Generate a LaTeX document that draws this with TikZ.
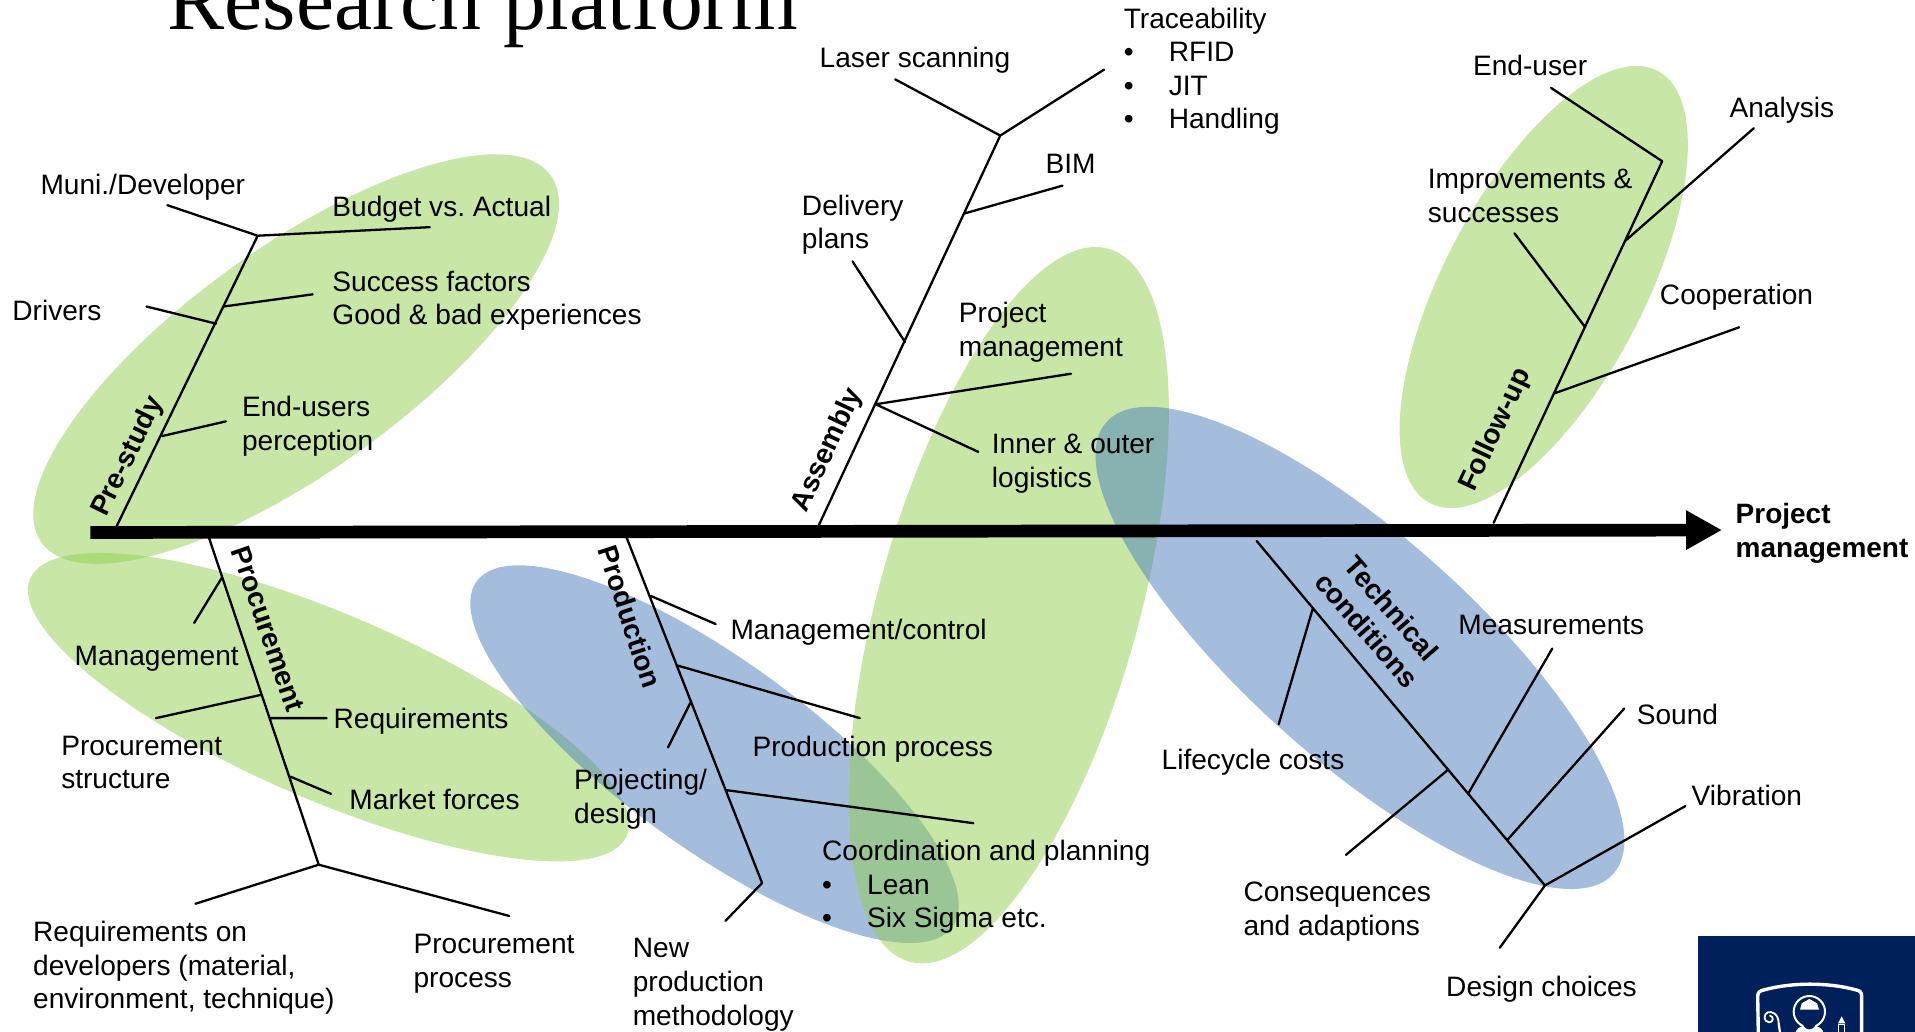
\documentclass[tikz,border=0pt]{standalone}
\usepackage{fontspec}
\setmainfont{Liberation Sans}
\newfontfamily\titlefont{Liberation Serif}
\usetikzlibrary{arrows.meta}
\definecolor{leaf}{HTML}{92D050}
\definecolor{sky}{HTML}{4A7CBC}
\definecolor{navy}{HTML}{00205B}
\newcommand{\BL}[1]{\makebox[45pt][l]{•}#1}
\frenchspacing
\tikzset{
  blob/.style={fill=#1,fill opacity=0.5,draw=none},
  lbl/.style={anchor=north west,inner sep=0pt,align=left,yshift=23.52pt,
    font=\fontsize{28.1}{33.6}\selectfont,execute at begin node=\strut},
  cat/.style={anchor=center,inner sep=0pt,align=center,
    font=\bfseries\fontsize{28}{33}\selectfont},
  bone/.style={draw=black,line width=2.3pt,line cap=round,line join=round},
  axis/.style={draw=black,line width=12.7pt,-{Triangle[length=36pt,width=37pt]}},
  crest/.style={draw=white,line cap=round,line join=round},
}
\begin{document}
\begin{tikzpicture}[x=1.2213pt,y=1.2213pt,yscale=-1]
\clip (0,0) rectangle (1568,845);
\fill[white] (0,0) rectangle (1568,845);
% blobs
\path[blob=leaf,shift={(242.5,294)},rotate=-35.8] (0,0) ellipse [x radius=257,y radius=91.5];
\path[blob=leaf,shift={(269,579)},rotate=23.3] (0,0) ellipse [x radius=266,y radius=76];
\path[blob=sky,shift={(585,617.5)},rotate=36] (0,0) ellipse [x radius=240.7,y radius=77];
\path[blob=leaf,shift={(826,495.5)},rotate=-74.4] (0,0) ellipse [x radius=303,y radius=106.6];
\path[blob=sky,shift={(1113.5,530.5)},rotate=41.7] (0,0) ellipse [x radius=278,y radius=92.4];
\path[blob=leaf,shift={(1264,235)},rotate=-62.2] (0,0) ellipse [x radius=200,y radius=81.7];
% title
\node[anchor=base west,inner sep=0pt,font=\titlefont\fontsize{85.7}{90}\selectfont] (title) at (137,24) {Research platform};
% axis
\coordinate (a0) at (74,436);
\coordinate (a1) at (1410,434);
\draw[axis] (a0) -- (a1);
% pre-study
\coordinate (p0) at (93,436);\coordinate (p1) at (211,193);
\coordinate (p2) at (137,168);\coordinate (p3) at (352,186);
\coordinate (p4) at (120,251);\coordinate (p5) at (177,265);
\coordinate (p6) at (183,251);\coordinate (p7) at (256,241);
\coordinate (p8) at (133,357);\coordinate (p9) at (185,345);
\draw[bone] (p0)--(p1) (p2)--(p1)--(p3) (p4)--(p5) (p6)--(p7) (p8)--(p9);
% procurement
\coordinate (q0) at (171,440);\coordinate (q1) at (261,708);
\coordinate (q2) at (181.5,473.3);\coordinate (q3) at (159,510);
\coordinate (q4) at (213.5,569);\coordinate (q5) at (127.7,588);
\coordinate (q6) at (221.6,588);\coordinate (q7) at (267.5,588);
\coordinate (q8) at (238,636);\coordinate (q9) at (271,650);
\coordinate (q10) at (160,740);\coordinate (q11) at (417,750);
\draw[bone] (q0)--(q1) (q2)--(q3) (q4)--(q5) (q6)--(q7) (q8)--(q9) (q10)--(q1)--(q11);
% production
\coordinate (r0) at (513,440);\coordinate (r1) at (624,723);
\coordinate (r2) at (533,488);\coordinate (r3) at (586,511);
\coordinate (r4) at (555,545);\coordinate (r5) at (704,588);
\coordinate (r6) at (566,574);\coordinate (r7) at (547,612);
\coordinate (r8) at (595,647);\coordinate (r9) at (797,674);
\coordinate (r10) at (594,754);
\draw[bone] (r0)--(r1)--(r10) (r2)--(r3) (r4)--(r5) (r6)--(r7) (r8)--(r9);
% assembly
\coordinate (s0) at (670,431);\coordinate (s1) at (819,111);
\coordinate (s2) at (733,65);\coordinate (s3) at (904,57);
\coordinate (s4) at (789,175);\coordinate (s5) at (870,152);
\coordinate (s6) at (741,280);\coordinate (s7) at (698,214);
\coordinate (s8) at (717,331);\coordinate (s9) at (877,306);
\coordinate (s10) at (801,370);
\draw[bone] (s0)--(s1) (s2)--(s1)--(s3) (s4)--(s5) (s6)--(s7) (s9)--(s8)--(s10);
% follow-up
\coordinate (u0) at (1223,428);\coordinate (u1) at (1361,132);
\coordinate (u2) at (1270,72);\coordinate (u3) at (1331,197);
\coordinate (u4) at (1436,105);\coordinate (u5) at (1298,268);
\coordinate (u6) at (1240,191);\coordinate (u7) at (1273,322);
\coordinate (u8) at (1424,268);
\draw[bone] (u0)--(u1)--(u2) (u3)--(u4) (u5)--(u6) (u7)--(u8);
% technical
\coordinate (t0) at (1029,443);\coordinate (t1) at (1265,725);
\coordinate (t2) at (1075,498);\coordinate (t3) at (1047,593);
\coordinate (t4) at (1186,630);\coordinate (t5) at (1102,700);
\coordinate (t6) at (1202,650);\coordinate (t7) at (1271,531);
\coordinate (t8) at (1234,688);\coordinate (t9) at (1330,580);
\coordinate (t10) at (1380,660);\coordinate (t11) at (1228,776);
\draw[bone] (t0)--(t1)--(t10) (t1)--(t11) (t2)--(t3) (t4)--(t5) (t6)--(t7) (t8)--(t9);
% labels
\node[lbl] (n1) at (33,159) {Muni./Developer};
\node[lbl] (n2) at (272,177) {Budget vs. Actual};
\node[lbl] (n3) at (10,262) {Drivers};
\node[lbl] (n4) at (272,241) {Success factors\\Good \& bad experiences};
\node[lbl] (n5) at (198,343.5) {End-users\\perception};
\node[lbl] (n6) at (61,545) {Management};
\node[lbl] (n7) at (273,596) {Requirements};
\node[lbl] (n8) at (50,621.5) {Procurement\\structure};
\node[lbl] (n9) at (286,663) {Market forces};
\node[lbl] (n10) at (27,773.5) {Requirements on\\developers (material,\\environment, technique)};
\node[lbl] (n11) at (338.5,784) {Procurement\\process};
\node[lbl] (n12) at (598,523.5) {Management/control};
\node[lbl] (n13) at (616,619) {Production process};
\node[lbl] (n14) at (470,649) {Projecting/\\design};
\node[lbl] (n15) at (673,707) {Coordination and planning\\\BL{Lean}\\\BL{Six Sigma etc.}};
\node[lbl] (n16) at (518,787.5) {New\\production\\methodology};
\node[lbl] (n17) at (671,55) {Laser scanning};
\node[lbl] (n18) at (920,25.5) {Traceability\\\BL{RFID}\\\BL{JIT}\\\BL{Handling}};
\node[lbl] (n19) at (856,141.5) {BIM};
\node[lbl] (n20) at (656.5,178.5) {Delivery\\plans};
\node[lbl] (n21) at (785,266.5) {Project\\management};
\node[lbl] (n22) at (812,374.5) {Inner \& outer\\logistics};
\node[lbl] (n23) at (1206,62) {End-user};
\node[lbl] (n24) at (1416,96) {Analysis};
\node[lbl] (n25) at (1169,157.5) {Improvements \&\\successes};
\node[lbl] (n26) at (1359,249) {Cooperation};
\node[lbl] (n27) at (1194,519) {Measurements};
\node[lbl] (n28) at (1340,593) {Sound};
\node[lbl] (n29) at (1385,659) {Vibration};
\node[lbl] (n30) at (951,630) {Lifecycle costs};
\node[lbl] (n31) at (1018,741.5) {Consequences\\and adaptions};
\node[lbl] (n32) at (1184,816) {Design choices};
\node[lbl,font=\bfseries\fontsize{28}{33.6}\selectfont] (n33) at (1421,431.5) {Project\\management};
% categories
\node[cat,rotate=64] at (105,374) (c1) {Pre-study};
\node[cat,rotate=-71] at (219.5,515) (c2) {Procurement};
\node[cat,rotate=-72] at (516,505) (c3) {Production};
\node[cat,rotate=65] at (678,368.5) (c4) {Assembly};
\node[cat,rotate=65] at (1225,352) (c5) {Follow-up};
\node[cat,rotate=-49] at (1129.5,507) (c6) {Technical\\conditions};
% logo
\fill[navy] (1390,766) rectangle (1568,845);
\begin{scope}[shift={(1745pt,975pt)},x=0.3333pt,y=0.3333pt]
\draw[crest,line width=3.4pt] (40,180) -- (38,65) .. controls (38,50) and (45,47) .. (60,44) .. controls (140,22) and (250,22) .. (330,44) .. controls (345,47) and (350,50) .. (350,65) -- (350,180);
\draw[crest,line width=2pt] (193,110) circle [radius=47];
\fill[white] (150,180) .. controls (152,160) and (165,155) .. (178,152) -- (208,152) .. controls (222,155) and (235,160) .. (237,180) -- cycle;
\fill[white] (165,104) -- (170,85) -- (193,72) -- (216,85) -- (222,104) -- cycle;
\fill[navy] (193,135) ellipse [x radius=22,y radius=28];
\draw[crest,line width=1.8pt] (101,145) .. controls (100,115) and (80,108) .. (68,112) .. controls (55,118) and (55,140) .. (72,142) .. controls (85,142) and (88,125) .. (75,122);
\draw[crest,line width=2.2pt] (101,145) -- (106,180);
\fill[white] (290,124) -- (279,145) -- (301,145) -- cycle;
\draw[crest,line width=1.6pt] (281,148) rectangle (299,180);
\end{scope}
\end{tikzpicture}
\end{document}
